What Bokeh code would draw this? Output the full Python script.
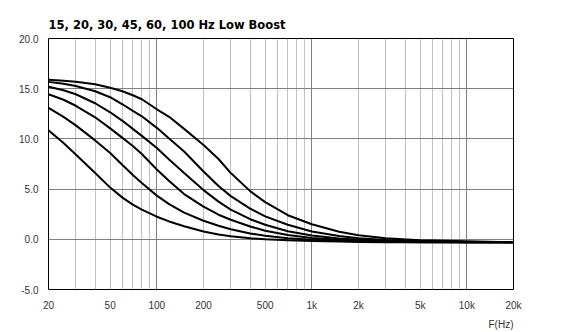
from bokeh.plotting import figure
from bokeh.models import Range1d, FixedTicker, PrintfTickFormatter, Title
from bokeh.embed import file_html
from bokeh.resources import INLINE

title_text = "15, 20, 30, 45, 60, 100 Hz Low Boost"
x_label = "F(Hz)"

freq_hz = [20, 25, 30, 40, 50, 60, 70, 80, 100, 120, 150, 200, 250, 300, 400,
           500, 700, 1000, 1500, 2000, 3000, 5000, 10000, 20000]

boost_100 = [15.9, 15.8, 15.7, 15.45, 15.1, 14.75, 14.35, 13.95, 12.95, 12.2, 11.0, 9.4,
             8.0, 6.6, 4.8, 3.7, 2.4, 1.5, 0.75, 0.4, 0.1, -0.1, -0.2, -0.3]
boost_60 = [15.68, 15.5, 15.27, 14.75, 14.15, 13.45, 12.8, 12.25, 11.1, 10.05, 8.75, 6.75,
            5.3, 4.3, 3.05, 2.28, 1.45, 0.78, 0.32, 0.1, -0.06, -0.16, -0.26, -0.3]
boost_45 = [15.2, 14.85, 14.45, 13.55, 12.65, 11.8, 11.0, 10.3, 9.1, 7.95, 6.6, 4.9,
            3.75, 2.95, 2.0, 1.45, 0.8, 0.37, 0.08, -0.04, -0.14, -0.21, -0.3, -0.3]
boost_30 = [14.45, 13.9, 13.3, 12.15, 11.05, 10.1, 9.3, 8.5, 6.95, 5.8, 4.5, 3.25,
            2.45, 1.95, 1.28, 0.85, 0.42, 0.13, -0.05, -0.12, -0.18, -0.26, -0.3, -0.3]
boost_20 = [13.1, 12.2, 11.35, 9.85, 8.6, 7.4, 6.4, 5.6, 4.35, 3.5, 2.65, 1.85,
            1.35, 1.0, 0.58, 0.35, 0.1, -0.05, -0.14, -0.19, -0.25, -0.3, -0.3, -0.3]
boost_15 = [10.85, 9.6, 8.45, 6.6, 5.15, 4.15, 3.45, 2.95, 2.25, 1.78, 1.3, 0.78,
            0.48, 0.3, 0.1, 0.01, -0.1, -0.16, -0.22, -0.26, -0.3, -0.3, -0.3, -0.3]

series = [boost_15, boost_20, boost_30, boost_45, boost_60, boost_100]

x_ticks = [20, 50, 100, 200, 500, 1000, 2000, 5000, 10000, 20000]
x_tick_labels = ["20", "50", "100", "200", "500", "1k", "2k", "5k", "10k", "20k"]
x_major_grid = [100, 1000, 10000]
x_minor_grid = [30, 40, 50, 60, 70, 80, 90, 200, 300, 400, 500, 600, 700, 800, 900,
                2000, 3000, 4000, 5000, 6000, 7000, 8000, 9000]
y_ticks = [-5, 0, 5, 10, 15, 20]

p = figure(width=561, height=332, x_axis_type="log",
           x_range=Range1d(20, 20000), y_range=Range1d(-5, 20),
           output_backend="svg", toolbar_location=None,
           min_border_left=48, min_border_right=48,
           min_border_top=38, min_border_bottom=42)

p.background_fill_color = "white"
p.border_fill_color = "white"
p.outline_line_color = "black"
p.outline_line_width = 1

p.title.text = title_text
p.title.align = "left"
p.title.text_font = "DejaVu Sans"
p.title.text_font_style = "bold"
p.title.text_font_size = "11.5px"
p.title.text_color = "black"
p.title.standoff = 13

for ax in (p.xaxis, p.yaxis):
    ax.axis_line_color = None
    ax.major_tick_line_color = None
    ax.minor_tick_line_color = None
    ax.major_label_text_font = "Liberation Sans"
    ax.major_label_text_font_size = "10px"
    ax.major_label_text_color = "#333333"

p.xaxis.ticker = FixedTicker(ticks=x_ticks)
p.xaxis.major_label_overrides = {t: l for t, l in zip(x_ticks, x_tick_labels)}
p.xaxis.major_label_standoff = 4
p.yaxis.ticker = FixedTicker(ticks=y_ticks)
p.yaxis.formatter = PrintfTickFormatter(format="%.1f")
p.yaxis.major_label_standoff = 4

p.xgrid.ticker = FixedTicker(ticks=x_major_grid, minor_ticks=x_minor_grid)
p.xgrid.grid_line_color = "#808080"
p.xgrid.minor_grid_line_color = "#c0c0c0"
p.ygrid.ticker = FixedTicker(ticks=y_ticks)
p.ygrid.grid_line_color = "#808080"

for s in series:
    p.line(freq_hz, s, line_color="black", line_width=2)

p.add_layout(Title(text=x_label, align="right", text_font="Liberation Sans",
                   text_font_size="10px", text_font_style="normal",
                   text_color="#333333", standoff=6), "below")

open("out.html", "w").write(file_html(p, INLINE))
